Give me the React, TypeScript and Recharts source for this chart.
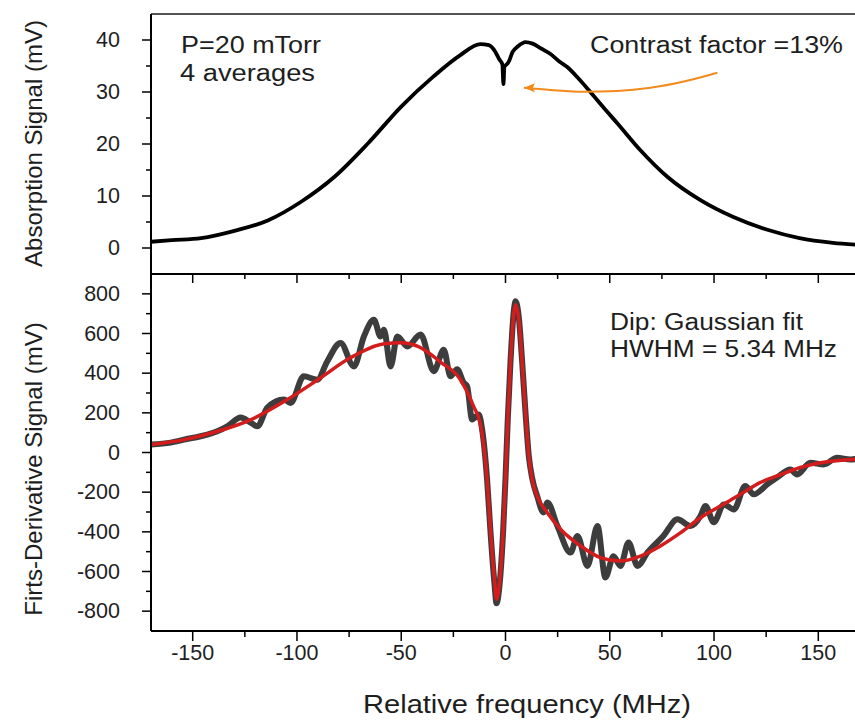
import React from "react";
import { LineChart, Line, XAxis, YAxis, ReferenceLine } from "recharts";

// top panel: absorption signal (mV) vs relative frequency (MHz)
const absFreq = [-170, -160, -146, -130, -114, -98, -82, -66, -50, -34.5, -22, -12, -8, -5, -3, -1.5, -1, -0.5, 0, 1.5, 3.4, 6, 9.6, 13, 17, 21.6, 26, 29.6, 35, 40.7, 47, 53.6, 64.7, 77.6, 93.5, 109, 125.6, 141, 157, 170];
const absSignal = [1.2, 1.5, 1.9, 3.3, 5.3, 8.9, 13.7, 20.1, 27.2, 33, 37, 39.2, 39, 37.8, 36.3, 35.3, 31.5, 35, 35.1, 35.8, 37.7, 38.8, 39.6, 39.3, 38.4, 37.3, 35.8, 34.8, 32.6, 30, 27, 24, 18.8, 13.7, 9.2, 6, 3.5, 1.9, 1, 0.6];

// bottom panel: measured first-derivative signal (mV)
const derivFreq = [-170, -160.6, -154.2, -146.2, -138.2, -133.4, -127, -122.2, -119, -114.2, -106.3, -103.1, -96.7, -90.3, -85.5, -79.1, -72.7, -67.9, -63.1, -59.9, -58.3, -55.1, -51.9, -47.1, -40.7, -34.4, -29.6, -26.4, -23.2, -20, -18.4, -16, -12.8, -11.2, -8.8, -7.2, -5.3, -4.3, -2.7, -1.1, 0, 1.1, 2.4, 4, 4.8, 6.4, 8, 9.6, 11.2, 12.8, 15.2, 18.2, 20.1, 24.9, 31.2, 34.5, 39.3, 44.1, 47.9, 51.8, 55.1, 59, 63.3, 68.1, 75.7, 82.5, 88.7, 93.5, 95.9, 99.9, 104.7, 109.5, 115, 119, 125.5, 130.2, 136.6, 139.8, 146.2, 152.6, 159, 165.4, 170];
const derivSignal = [40, 50, 65, 82, 107, 132, 176, 151, 132, 226, 267, 250, 384, 367, 459, 552, 434, 585, 669, 585, 619, 434, 585, 535, 595, 410, 518, 384, 420, 351, 334, 166, 191, 116, -140, -400, -660, -760, -650, -390, -130, 170, 460, 715, 762, 680, 455, 200, -20, -130, -220, -302, -252, -371, -504, -421, -572, -371, -630, -523, -572, -454, -572, -504, -421, -337, -371, -320, -270, -352, -262, -287, -169, -211, -161, -126, -86, -111, -52, -60, -27, -35, -30];

// bottom panel: fit (mV)
const fitFreq = [-170, -154, -138, -122, -106, -90, -74, -58, -50, -42, -31, -21.6, -15.3, -12, -10.5, -8.8, -7.2, -5.3, -4.3, -2.7, -1.1, 0, 1.1, 2.4, 4, 4.8, 6.4, 8, 9.6, 11.2, 12.8, 15.2, 20, 26.4, 36, 45.5, 55, 64.7, 74.3, 84, 93.5, 103, 112.7, 122, 132, 141, 151, 166, 170];
const fitSignal = [40, 65, 107, 166, 258, 367, 480, 548, 553, 535, 455, 367, 233, 140, 40, -140, -390, -640, -740, -640, -390, -136, 166, 451, 703, 745, 669, 451, 200, -18, -136, -220, -302, -387, -471, -530, -547, -522, -471, -404, -329, -270, -211, -152, -111, -77, -52, -35, -32];

// orange annotation arrow (tip first), in top-panel data units
const arrowFreq = [8.8, 21.6, 37.4, 53.5, 69.5, 85.5, 101.6];
const arrowLevel = [30.8, 30.4, 30.06, 30.2, 30.8, 32, 33.7];

const freqTicks = [-150, -125, -100, -75, -50, -25, 0, 25, 50, 75, 100, 125, 150];
const absTicks = [0, 5, 10, 15, 20, 25, 30, 35, 40];
const derivTicks = [-800, -700, -600, -500, -400, -300, -200, -100, 0, 100, 200, 300, 400, 500, 600, 700, 800];

const FONT = "'Liberation Sans', Arial, sans-serif";
const TEXT = "#1e1e1e";

const absData = absFreq.map((f, i) => ({ f, v: absSignal[i] }));
const derivData = derivFreq.map((f, i) => ({ f, v: derivSignal[i] }));
const fitData = fitFreq.map((f, i) => ({ f, v: fitSignal[i] }));
const arrowData = arrowFreq.map((f, i) => ({ f, v: arrowLevel[i] }));

const LeftTick = (props: any) => {
  const { x, y, payload, step } = props;
  const major = payload.value % step === 0;
  const len = major ? 9 : 5;
  return (
    <g>
      <line x1={x} y1={y} x2={x - len} y2={y} stroke="#000" strokeWidth={1.5} />
      {major && (
        <text x={x - 31} y={y} textAnchor="end" dominantBaseline="central" fontSize={21.5} fill={TEXT} fontFamily={FONT}>
          {payload.value}
        </text>
      )}
    </g>
  );
};

const BottomTick = (props: any) => {
  const { x, y, payload } = props;
  const major = payload.value % 50 === 0;
  const len = major ? 10 : 6;
  return (
    <g>
      <line x1={x} y1={y} x2={x} y2={y + len} stroke="#000" strokeWidth={1.5} />
      {major && (
        <text x={x} y={y + 22} textAnchor="middle" dominantBaseline="central" fontSize={21.5} fill={TEXT} fontFamily={FONT}>
          {payload.value}
        </text>
      )}
    </g>
  );
};

const InnerTopTick = (props: any) => {
  const { x, y, payload } = props;
  const len = payload.value % 50 === 0 ? 9 : 5;
  return <line x1={x} y1={y} x2={x} y2={y + len} stroke="#000" strokeWidth={1.5} />;
};

const ArrowHead = (props: any) => {
  const { cx, cy, index } = props;
  if (index !== 0) return <g key={index} />;
  return <path key={index} d={`M${cx},${cy} l11,-4.5 l-2,4.5 l2,4.5 z`} fill="#f28a1c" />;
};

export default function App() {
  return (
    <div style={{ position: "absolute", left: 0, top: 0, width: 855, height: 720, overflow: "hidden", background: "#fff" }}>
      <div style={{ position: "absolute", left: 0, top: 0 }}>
        <LineChart width={870} height={280} margin={{ top: 14, right: 10, bottom: 6, left: 0 }}>
          <XAxis type="number" dataKey="f" domain={[-170, 170]} allowDataOverflow hide />
          <YAxis
            type="number"
            domain={[-5, 45]}
            ticks={absTicks}
            interval={0}
            width={151}
            tickSize={0}
            tickMargin={0}
            tickLine={false}
            axisLine={{ stroke: "#000", strokeWidth: 2 }}
            tick={(p: any) => <LeftTick {...p} step={10} />}
          />
          <ReferenceLine y={45} stroke="#555" strokeWidth={2} />
          <Line data={absData} dataKey="v" type="monotone" stroke="#000" strokeWidth={3.8} dot={false} isAnimationActive={false} />
          <Line data={arrowData} dataKey="v" type="monotone" stroke="#f28a1c" strokeWidth={2} dot={ArrowHead} isAnimationActive={false} />
        </LineChart>
      </div>
      <div style={{ position: "absolute", left: 0, top: 268 }}>
        <LineChart width={870} height={452} margin={{ top: 5, right: 10, bottom: 0, left: 0 }}>
          <XAxis
            xAxisId="bottom"
            type="number"
            dataKey="f"
            domain={[-170, 170]}
            allowDataOverflow
            ticks={freqTicks}
            interval={0}
            height={89}
            tickSize={0}
            tickMargin={0}
            tickLine={false}
            axisLine={{ stroke: "#000", strokeWidth: 2 }}
            tick={BottomTick}
          />
          <XAxis
            xAxisId="top"
            orientation="top"
            type="number"
            dataKey="f"
            domain={[-170, 170]}
            allowDataOverflow
            ticks={freqTicks}
            interval={0}
            height={1}
            tickSize={0}
            tickMargin={0}
            tickLine={false}
            axisLine={{ stroke: "#000", strokeWidth: 2 }}
            tick={InnerTopTick}
          />
          <YAxis
            type="number"
            domain={[-900, 900]}
            ticks={derivTicks}
            interval={0}
            width={151}
            tickSize={0}
            tickMargin={0}
            tickLine={false}
            axisLine={{ stroke: "#000", strokeWidth: 2 }}
            tick={(p: any) => <LeftTick {...p} step={200} />}
          />
          <Line xAxisId="bottom" data={derivData} dataKey="v" type="monotone" stroke="#3d3d3d" strokeWidth={6} strokeLinejoin="round" dot={false} isAnimationActive={false} />
          <Line xAxisId="bottom" data={fitData} dataKey="v" type="monotone" stroke="#d41c1c" strokeWidth={3.5} dot={false} isAnimationActive={false} />
        </LineChart>
      </div>
      <svg width={855} height={720} style={{ position: "absolute", left: 0, top: 0, pointerEvents: "none" }} fontFamily={FONT} fill={TEXT}>
        <text transform="translate(33,143.5) rotate(-90)" textAnchor="middle" dominantBaseline="central" fontSize={24}>
          Absorption Signal (mV)
        </text>
        <text transform="translate(33,469) rotate(-90)" textAnchor="middle" dominantBaseline="central" fontSize={24}>
          Firts-Derivative Signal (mV)
        </text>
        <text x={363} y={713} fontSize={25} textLength={328} lengthAdjust="spacingAndGlyphs">
          Relative frequency (MHz)
        </text>
        <text x={181} y={53} fontSize={23} textLength={140} lengthAdjust="spacingAndGlyphs">P=20 mTorr</text>
        <text x={180} y={80.5} fontSize={23} textLength={135} lengthAdjust="spacingAndGlyphs">4 averages</text>
        <text x={590} y={53} fontSize={23} textLength={253} lengthAdjust="spacingAndGlyphs">Contrast factor =13%</text>
        <text x={610} y={330} fontSize={23} textLength={193} lengthAdjust="spacingAndGlyphs">Dip: Gaussian fit</text>
        <text x={610} y={357} fontSize={23} textLength={227} lengthAdjust="spacingAndGlyphs">HWHM = 5.34 MHz</text>
      </svg>
    </div>
  );
}
